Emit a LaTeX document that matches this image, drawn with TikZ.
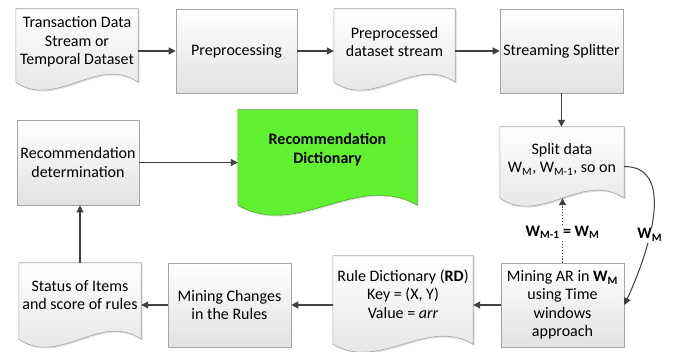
\documentclass[tikz,border=0pt]{standalone}
\usepackage{fontspec}
\setmainfont{Carlito}
\usetikzlibrary{arrows.meta,calc,shadows,backgrounds}
\definecolor{lineg}{RGB}{64,64,64}
\definecolor{boxborder}{RGB}{165,165,165}
\definecolor{boxbot}{RGB}{226,226,226}
\definecolor{recgreen}{RGB}{98,240,50}
\definecolor{recborder}{RGB}{80,170,45}
\newcommand\docoutline[3]{%
  \path[#2] (#1.north west) -- (#1.north east) -- ([yshift=#3 pt]#1.south east)
    .. controls ($(#1.south east)!0.3333!(#1.south west)+(0pt,{4.46*#3pt})$)
    and ($(#1.south east)!0.6667!(#1.south west)+(0pt,{-2.46*#3pt})$)
    .. ([yshift=#3 pt]#1.south west) -- cycle;}
\tikzset{
  every node/.style={font=\fontsize{16}{18.5}\selectfont, align=center},
  boxbg/.style={draw=boxborder, line width=0.6pt, top color=white, bottom color=boxbot,
    drop shadow={shadow xshift=1.3pt, shadow yshift=-1.3pt, opacity=0.25}},
  procbox/.style={boxbg, rectangle, inner sep=2pt},
  docarea/.style={rectangle, draw=none, inner sep=0pt},
  doctext/.style={inner sep=1pt},
  greenbg/.style={draw=recborder, line width=0.6pt, fill=recgreen,
    drop shadow={shadow xshift=1.3pt, shadow yshift=-1.3pt, opacity=0.25}},
  flow/.style={draw=lineg, line width=1.1pt, -{Triangle[length=7pt,width=7pt]}},
  dotflow/.style={flow, dash pattern=on 1.3pt off 1.6pt},
  lbl/.style={fill=white, inner sep=1pt, font=\fontsize{16}{18.5}\selectfont\bfseries},
}
\begin{document}
\begin{tikzpicture}[x=1pt,y=-1pt]
\useasboundingbox (0,0) rectangle (675,352);
% top row
\node[docarea, minimum width=122pt, minimum height=81pt] (d1) at (77,49.5) {};
\node[doctext] (d1t) at (77,42) {Transaction Data\\Stream or\\Temporal Dataset};
\node[procbox, minimum width=121pt, minimum height=84pt] (p) at (236.5,51) {Preprocessing};
\node[docarea, minimum width=121pt, minimum height=81pt] (d2) at (394.5,49.5) {};
\node[doctext] (d2t) at (394.5,42) {Preprocessed\\dataset stream};
\node[procbox, minimum width=123pt, minimum height=84pt] (ss) at (561.5,51) {Streaming Splitter};
% middle row
\node[procbox, minimum width=122pt, minimum height=85pt] (recdet) at (78,162.5) {Recommendation\\determination};
\node[docarea, minimum width=179pt, minimum height=105pt] (green) at (327.5,162.5) {};
\node[doctext, font=\fontsize{16}{18.5}\selectfont\bfseries] (greent) at (327.5,149.5) {Recommendation\\Dictionary};
\node[docarea, minimum width=124pt, minimum height=79pt] (split) at (562,166.5) {};
\node[doctext] (splitt) at (562,159) {Split data\\W\textsubscript{M}, W\textsubscript{M-1}, so on};
% bottom row
\node[docarea, minimum width=122pt, minimum height=84pt] (status) at (80,305) {};
\node[doctext] (statust) at (80,295) {Status of Items\\and score of rules};
\node[procbox, minimum width=123pt, minimum height=84pt] (mc) at (229.5,305) {Mining Changes\\in the Rules};
\node[docarea, minimum width=140pt, minimum height=96pt] (rd) at (403,304) {};
\node[doctext] (rdt) at (403,294) {Rule Dictionary (\textbf{RD})\\Key = (X, Y)\\Value = \textit{arr}};
\node[procbox, minimum width=123pt, minimum height=84pt] (mar) at (562.5,305) {Mining AR in \textbf{W\textsubscript{M}}\\using Time\\windows\\approach};
% document outlines
\begin{pgfonlayer}{background}
\fill[white] (0,0) rectangle (675,352);
\docoutline{d1}{boxbg}{8}
\docoutline{d2}{boxbg}{8}
\docoutline{green}{greenbg}{10}
\docoutline{split}{boxbg}{8}
\docoutline{status}{boxbg}{8}
\docoutline{rd}{boxbg}{8}
\end{pgfonlayer}
\coordinate (splitwave) at ([yshift=8pt]split.south);
% connectors
\draw[flow] (d1.east |- p.west) -- (p.west);
\draw[flow] (p.east) -- (p.east -| d2.west);
\draw[flow] (d2.east |- ss.west) -- (ss.west);
\draw[flow] (ss.south) -- (ss.south |- split.north);
\draw[flow] (recdet.east) -- (recdet.east -| green.west);
\draw[flow] (status.north) -- (status.north |- recdet.south);
\draw[flow] (mar.west) -- (mar.west -| rd.east);
\draw[flow] (rd.west |- mc.east) -- (mc.east);
\draw[flow] (mc.west) -- (mc.west -| status.east);
\draw[dotflow] (mar.north) -- node[lbl, pos=0.47] (lbl1) {W\textsubscript{M-1} = W\textsubscript{M}} (splitwave -| mar.north);
\draw[flow, line width=1pt] (split.east) to[out=0,in=65] node[lbl, pos=0.6] (lbl2) {W\textsubscript{M}} (mar.east);
\end{tikzpicture}
\end{document}
